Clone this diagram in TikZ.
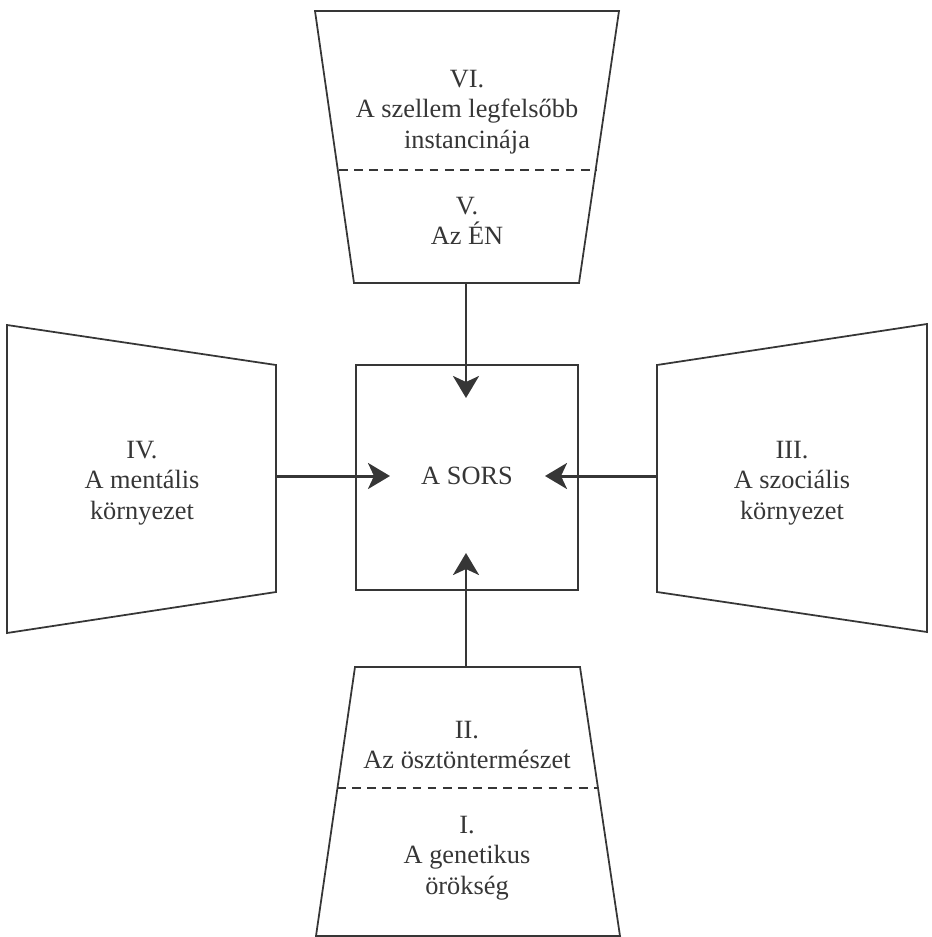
\documentclass[tikz,border=0pt]{standalone}
\usepackage{fontspec}
\setmainfont{Liberation Serif}
\usetikzlibrary{arrows.meta}
\definecolor{ink}{HTML}{363636}
\begin{document}
\begin{tikzpicture}[x=0.02cm, y=-0.02cm,
  frame/.style={draw=ink, line width=1pt, line join=miter},
  split/.style={draw=ink, line width=0.8pt, dash pattern=on 5pt off 3.6pt},
  flow/.style={draw=ink, line width=1.7pt,
    -{Stealth[length=4.4mm, width=5.2mm, inset=1.2mm]}},
  label/.style={text=ink, align=center, inner sep=0pt,
    font=\fontsize{15}{17.4}\selectfont}]%
  \useasboundingbox (0, 0) rectangle (932, 937);
  % trapezes
  \draw[frame] (315, 11) -- (619, 11) -- (579, 283) -- (354, 283) -- cycle;
  \draw[frame] (355, 667) -- (580, 667) -- (620, 936) -- (316, 936) -- cycle;
  \draw[frame] (7, 325) -- (276, 365) -- (276, 592) -- (7, 633) -- cycle;
  \draw[frame] (927, 324) -- (657, 365) -- (657, 592) -- (927, 632) -- cycle;
  \draw[split] (339, 170) -- (596, 170);
  \draw[split] (337, 788) -- (598, 788);
  % kozepso doboz
  \draw[frame] (356, 365) rectangle (578, 590);
  \node[label] (sors) at (467, 476) {A SORS};
  \node[label] (szellem) at (467, 112) {VI.\\A szellem legfelsőbb\\instancinája};
  \node[label] (en) at (467, 221) {V.\\Az ÉN};
  \node[label] (mentalis) at (142, 483) {IV.\\A mentális\\környezet};
  \node[label] (szocialis) at (792, 483) {III.\\A szociális\\környezet};
  \node[label] (osztonok) at (467, 745) {II.\\Az ösztöntermészet};
  \node[label] (genetika) at (467, 858) {I.\\A genetikus\\örökség};
  % nyilak
  \coordinate (enB) at (466, 283);
  \coordinate (mentalisR) at (276, 476);
  \coordinate (szocialisL) at (657, 476);
  \coordinate (osztonokT) at (466, 667);
  \coordinate (sorsN) at (466, 398);
  \coordinate (sorsW) at (390, 476);
  \coordinate (sorsE) at (545, 476);
  \coordinate (sorsS) at (466, 553);
  \draw[flow] (enB) -- (sorsN);
  \draw[flow] (mentalisR) -- (sorsW);
  \draw[flow] (szocialisL) -- (sorsE);
  \draw[flow] (osztonokT) -- (sorsS);
  %\foreach \p in {sorsN,sorsW,sorsE,sorsS}
  %\fill[red] (\p) circle (3);
\end{tikzpicture}
\end{document}
